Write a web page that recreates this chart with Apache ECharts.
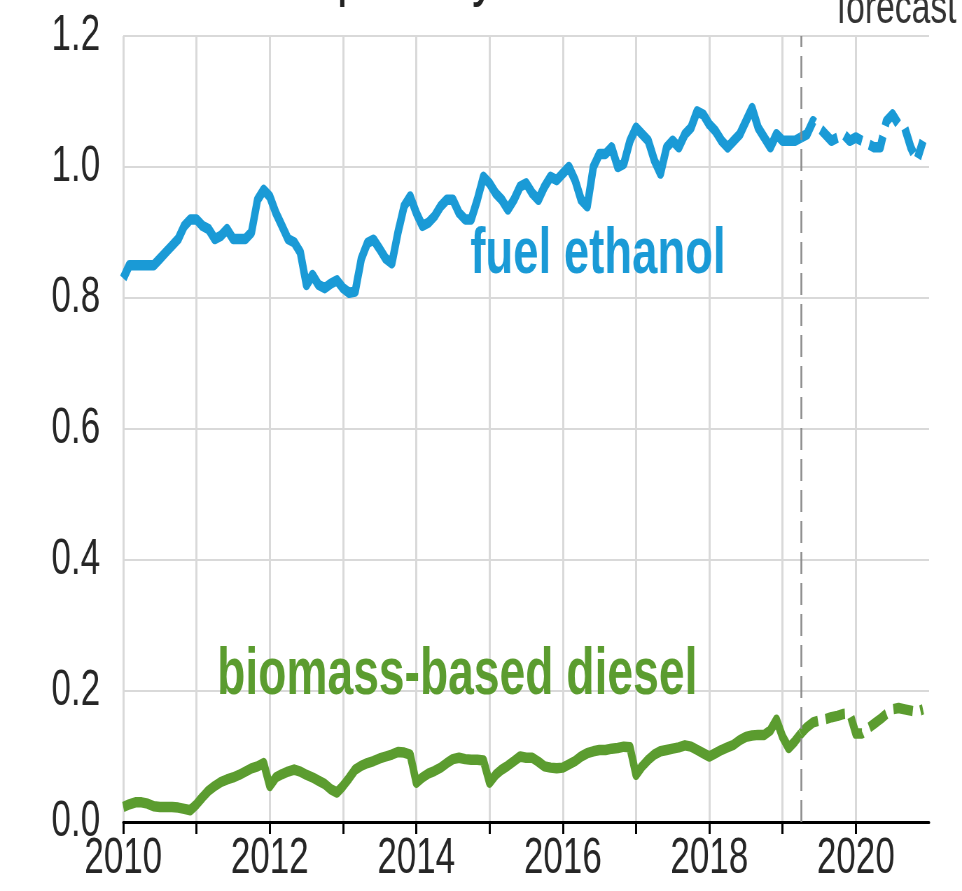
<!DOCTYPE html>
<html>
<head>
<meta charset="utf-8">
<script src="https://cdn.jsdelivr.net/npm/echarts@6/dist/echarts.min.js"></script>
<style>
  html, body { margin: 0; padding: 0; overflow: hidden; background: #fff; }
  /* the source chart is squeezed sideways, so draw wide and squeeze */
  #chart { width: 1374px; height: 891px; transform: scaleX(0.70015); transform-origin: 0 0; }
</style>
</head>
<body>
<div id="chart"></div>
<script>
// monthly, Jan 2010 .. Dec 2020
const startYear = 2010
const lastHistIndex = 111 // Apr 2019, forecast after this
const forecastStart = 2019.25

const ethanol = [
  0.83, 0.85, 0.85, 0.85, 0.85, 0.85, 0.86, 0.87, 0.88, 0.89, 0.91, 0.92,
  0.92, 0.91, 0.905, 0.89, 0.895, 0.905, 0.89, 0.89, 0.89, 0.90, 0.95, 0.965,
  0.955, 0.93, 0.91, 0.89, 0.885, 0.87, 0.82, 0.835, 0.82, 0.815, 0.822, 0.827,
  0.815, 0.808, 0.81, 0.86, 0.884, 0.889, 0.875, 0.86, 0.853, 0.90, 0.94, 0.955,
  0.93, 0.91, 0.915, 0.925, 0.94, 0.95, 0.95, 0.93, 0.92, 0.92, 0.95, 0.985,
  0.975, 0.96, 0.95, 0.935, 0.95, 0.97, 0.975, 0.96, 0.95, 0.97, 0.985, 0.98,
  0.99, 1.0, 0.98, 0.95, 0.94, 1.0, 1.02, 1.02, 1.03, 1.0, 1.005, 1.04,
  1.06, 1.05, 1.04, 1.01, 0.99, 1.03, 1.04, 1.03, 1.05, 1.06, 1.085, 1.08,
  1.065, 1.055, 1.04, 1.03, 1.04, 1.05, 1.07, 1.09, 1.06, 1.045, 1.03, 1.05,
  1.04, 1.04, 1.04, 1.045, 1.05, 1.07, 1.06, 1.05, 1.04, 1.045, 1.05, 1.04,
  1.045, 1.04, 1.035, 1.03, 1.03, 1.07, 1.08, 1.065, 1.06, 1.03, 1.01, 1.04
]
const diesel = [
  0.023, 0.027, 0.03, 0.03, 0.028, 0.024, 0.023, 0.023, 0.023, 0.022, 0.02, 0.018,
  0.027, 0.038, 0.048, 0.055, 0.061, 0.065, 0.068, 0.072, 0.077, 0.082, 0.085, 0.09,
  0.055, 0.068, 0.073, 0.077, 0.08, 0.077, 0.072, 0.068, 0.063, 0.058, 0.05, 0.045,
  0.055, 0.067, 0.08, 0.086, 0.09, 0.093, 0.097, 0.1, 0.103, 0.107, 0.106, 0.103,
  0.06, 0.068, 0.074, 0.078, 0.083, 0.09, 0.096, 0.098, 0.096, 0.095, 0.095, 0.094,
  0.06, 0.072, 0.08, 0.086, 0.093, 0.1, 0.098, 0.098, 0.092, 0.085, 0.083, 0.082,
  0.083, 0.088, 0.093, 0.1, 0.105, 0.108, 0.11, 0.11, 0.112, 0.113, 0.115, 0.114,
  0.072, 0.085, 0.095, 0.103, 0.108, 0.11, 0.112, 0.114, 0.117, 0.115, 0.11, 0.105,
  0.1, 0.105, 0.11, 0.114, 0.118, 0.125, 0.13, 0.132, 0.133, 0.133, 0.14, 0.156,
  0.13, 0.113, 0.123, 0.135, 0.145, 0.152, 0.155, 0.157, 0.16, 0.162, 0.165, 0.166,
  0.135, 0.135, 0.143, 0.15, 0.157, 0.165, 0.172, 0.174, 0.172, 0.17, 0.168, 0.172
]
const yTicks = [0, 0.2, 0.4, 0.6, 0.8, 1.0, 1.2]
const yearTicks = [2010, 2011, 2012, 2013, 2014, 2015, 2016, 2017, 2018, 2019, 2020]

const blue = '#1a9ad6'
const green = '#5b9c2f'
const font = 'Liberation Sans'

// decimal year for each month
const months = ethanol.map((v, i) => startYear + i / 12)

//split into history (solid) and forecast (dashed)
const hist = (arr) => arr.map((v, i) => [months[i], i <= lastHistIndex ? v : null])
const fcst = (arr) => arr.map((v, i) => [months[i], i >= lastHistIndex ? v : null])

const lineSeries = (name, data, color, dashed) => ({
  name: name,
  type: 'line',
  data: data,
  showSymbol: false,
  connectNulls: false,
  lineStyle: {color: color, width: 10.5, type: dashed ? [28, 11] : 'solid', cap: 'butt', join: 'round'},
  z: 3
})

const chart = echarts.init(document.getElementById('chart'))
const option = {
  animation: false,
  grid: {left: 176, right: 47, top: 36, bottom: 69},
  xAxis: {
    type: 'value',
    min: 2010,
    max: 2021,
    interval: 1,
    axisLine: {lineStyle: {color: '#000', width: 3}},
    axisTick: {show: true, length: 12, customValues: yearTicks, lineStyle: {color: '#000', width: 3}},
    axisLabel: {
      margin: 12,
      fontSize: 50,
      fontFamily: font,
      color: '#262626',
      formatter: (v) => (v % 2 === 0 && v < 2021) ? String(v) : ''
    },
    splitLine: {show: true, lineStyle: {color: '#d9d9d9', width: 3}}
  },
  yAxis: {
    type: 'value',
    min: yTicks[0],
    max: yTicks[yTicks.length - 1],
    interval: 0.2,
    axisLine: {show: false},
    axisTick: {show: false},
    axisLabel: {
      margin: 33,
      fontSize: 50,
      fontFamily: font,
      color: '#262626',
      formatter: (v) => v.toFixed(1)
    },
    splitLine: {lineStyle: {color: '#d9d9d9', width: 2}}
  },
  series: [
    lineSeries('fuel ethanol', hist(ethanol), blue, false),
    Object.assign(lineSeries('fuel ethanol forecast', fcst(ethanol), blue, true), {
      markLine: {
        silent: true,
        symbol: 'none',
        label: {show: false},
        lineStyle: {color: '#8a8a8a', width: 2.5, type: [22, 9]},
        data: [{xAxis: forecastStart}]
      }
    }),
    lineSeries('biomass-based diesel', hist(diesel), green, false),
    lineSeries('biomass-based diesel forecast', fcst(diesel), green, true)
  ],
  graphic: [
    {
      // units line, mostly cut off by the top edge in the source
      type: 'text', x: 43, y: -26, z: 10,
      style: {text: 'million barrels per day', font: '68px ' + font, fill: '#222', textAlign: 'left', textVerticalAlign: 'middle'}
    },
    {
      type: 'text', x: 854, y: 255, z: 10,
      style: {text: 'fuel ethanol', font: 'bold 65px ' + font, fill: blue, textAlign: 'center', textVerticalAlign: 'middle'}
    },
    {
      type: 'text', x: 653, y: 676, z: 10,
      style: {text: 'biomass-based diesel', font: 'bold 66px ' + font, fill: green, textAlign: 'center', textVerticalAlign: 'middle'}
    },
    {
      type: 'text', x: 1366, y: 10, z: 10,
      style: {text: 'forecast', font: '48px ' + font, fill: '#333', textAlign: 'right', textVerticalAlign: 'middle'}
    }
  ]
}
chart.setOption(option)
</script>
</body>
</html>
